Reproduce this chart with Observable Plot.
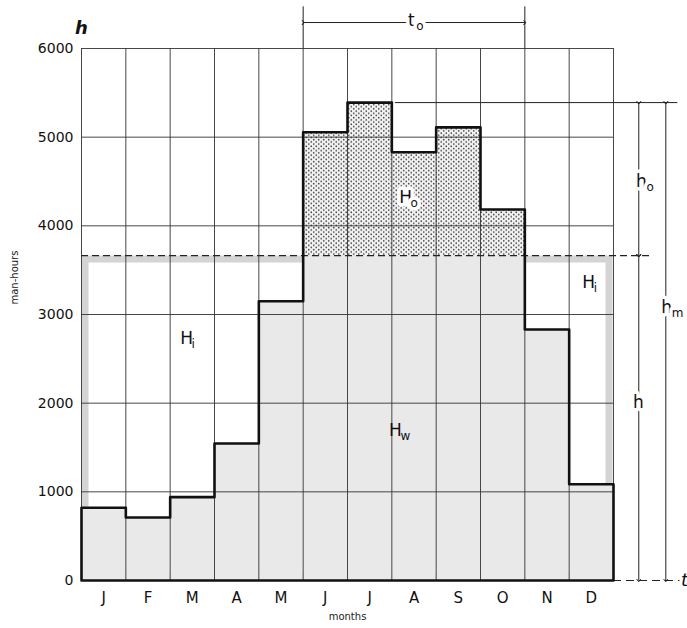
<!DOCTYPE html>
<html>
<head>
<meta charset="utf-8">
<script src="https://cdn.jsdelivr.net/npm/d3@7"></script>
<script src="https://cdn.jsdelivr.net/npm/@observablehq/plot@0.6"></script>
<style>
  html, body { margin: 0; padding: 0; background: #fff; }
  #chart { width: 687px; height: 628px; }
</style>
</head>
<body>
<div id="chart"></div>
<script>
// ---- data ----
const months = ["J", "F", "M", "A", "M", "J", "J", "A", "S", "O", "N", "D"];
const manHours = [820, 710, 940, 1545, 3150, 5055, 5390, 4830, 5110, 4185, 2830, 1085];
const yTicks = [0, 1000, 2000, 3000, 4000, 5000, 6000];
const hLevel = 3665;          // level h (dashed line)
const overtimeStart = 5;      // t_o begins (June)
const overtimeEnd = 10;       // t_o ends (after October)

// region labels (base letter + subscript)
const regionLabels = [
  {base: "H", sub: "i", x: 2.37, y: 2730, halo: false},
  {base: "H", sub: "i", x: 11.44, y: 3360, halo: false},
  {base: "H", sub: "o", x: 7.31, y: 4320, halo: true},
  {base: "H", sub: "w", x: 7.08, y: 1690, halo: false}
];
const dimLabels = [
  {base: "t", sub: "o", x: 7.44, y: 6315, halo: true},
  {base: "h", sub: "o", x: 12.63, y: 4500, halo: true},
  {base: "h", sub: "", x: 12.56, y: 2010, halo: true},
  {base: "h", sub: "m", x: 13.2, y: 3080, halo: true}
];

// ---- derived ----
const hMax = d3.max(manHours);
const rows = months.map((m, i) => ({i, m, v: manHours[i]}));
const over = rows.filter(d => d.v > hLevel);
const outline = [{x: 0, y: 0}, ...rows.map(d => ({x: d.i, y: d.v})),
  {x: months.length, y: manHours[manHours.length - 1]}, {x: months.length, y: 0}, {x: 0, y: 0}];
const n = months.length;
const dimX1 = 12.57, dimX2 = 13.18;
const dims = [
  {x: dimX1, y1: hMax, y2: hLevel},
  {x: dimX1, y1: hLevel, y2: 0},
  {x: dimX2, y1: hMax, y2: 0}
];
const labels = [...regionLabels, ...dimLabels];
const haloed = labels.filter(d => d.halo);
const plain = labels.filter(d => !d.halo);
const STIPPLE = "#010203";

function labelMarks(data, halo) {
  const extra = halo ? {stroke: "#fff", strokeWidth: 7} : {};
  return [
    Plot.text(data, {x: "x", y: "y", text: "base", fontSize: 17, fill: "#111", ...extra}),
    Plot.text(data, {x: "x", y: "y", text: "sub", fontSize: 12, dx: 5, dy: 6, textAnchor: "start", fill: "#111", ...extra})
  ];
}

const chart = Plot.plot({
  width: 687,
  height: 628,
  marginLeft: 81,
  marginRight: 74,
  marginTop: 48,
  marginBottom: 48,
  style: {fontFamily: "DejaVu Sans, sans-serif", background: "#fff", color: "#111"},
  x: {domain: [0, n], axis: null},
  y: {domain: [0, 6000], axis: null},
  marks: [
    // idle-capacity frame (gray band)
    Plot.rect([{}], {x1: 0, x2: n, y1: 0, y2: hLevel, fill: "none", stroke: "#d4d4d4", strokeWidth: 7,
      insetLeft: 4, insetRight: 4, insetTop: 4, insetBottom: 4}),
    // work done within h
    Plot.rect(rows, {x1: d => d.i, x2: d => d.i + 1, y1: 0, y2: d => Math.min(d.v, hLevel), fill: "#e9e9e9"}),
    // overtime (stippled)
    Plot.rect(over, {x1: d => d.i, x2: d => d.i + 1, y1: hLevel, y2: d => d.v, fill: STIPPLE}),
    // grid
    Plot.ruleY(yTicks, {x1: 0, x2: n, stroke: "#333", strokeWidth: 0.9}),
    Plot.ruleX(d3.range(n + 1), {y1: 0, y2: 6000, stroke: "#333", strokeWidth: 0.9}),
    // h level dashed
    Plot.ruleY([hLevel], {x1: 0, x2: 12.9, stroke: "#222", strokeWidth: 1.3, strokeDasharray: "7,4"}),
    // max level line
    Plot.ruleY([hMax], {x1: 7.08, x2: 13.45, stroke: "#222", strokeWidth: 1}),
    // baseline extension
    Plot.ruleY([0], {x1: n, x2: 13.5, stroke: "#222", strokeWidth: 1, strokeDasharray: "8,5"}),
    // outline of monthly demand
    Plot.line(outline, {x: "x", y: "y", curve: "step-after", stroke: "#111", strokeWidth: 2.6}),
    // t_o dimension
    Plot.ruleX([overtimeStart, overtimeEnd], {y1: 6000, y2: 6470, stroke: "#222", strokeWidth: 1}),
    Plot.link([{}], {x1: overtimeStart, x2: overtimeEnd, y1: 6293, y2: 6293, stroke: "#222", strokeWidth: 1,
      markerStart: "arrow", markerEnd: "arrow"}),
    // h dimensions
    Plot.link(dims, {x1: "x", x2: "x", y1: "y1", y2: "y2", stroke: "#222", strokeWidth: 1,
      markerStart: "arrow", markerEnd: "arrow"}),
    // labels
    ...labelMarks(haloed, true),
    ...labelMarks(plain, false),
    // axis variable symbols
    Plot.text(["h"], {x: 0, y: 6225, text: d => d, fontSize: 18, fontStyle: "italic", fontWeight: "bold", fill: "#111"}),
    Plot.text(["t"], {x: 13.52, y: 0, text: d => d, fontSize: 18, fontStyle: "italic", textAnchor: "start", fill: "#111"}),
    // axes
    Plot.axisY({ticks: yTicks, tickFormat: d => String(d), tickSize: 0, tickPadding: 8, label: null, fontSize: 14}),
    Plot.axisX({ticks: months.map((_, i) => i + 0.5), tickFormat: d => months[Math.floor(d)],
      tickSize: 0, tickPadding: 12, label: null, fontSize: 15}),
    Plot.text(["months"], {frameAnchor: "bottom", dy: 39, text: d => d, fontSize: 10, fill: "#222"}),
    Plot.text(["man-hours"], {frameAnchor: "left", dx: -67, dy: -10, rotate: -90, text: d => d, fontSize: 10, fill: "#222"})
  ]
});

// stipple pattern for overtime area
const svg = d3.select(chart);
const defs = svg.insert("defs", ":first-child");
const pat = defs.append("pattern").attr("id", "dots").attr("patternUnits", "userSpaceOnUse")
  .attr("width", 5).attr("height", 4.4);
pat.append("rect").attr("width", 5).attr("height", 4.4).attr("fill", "#f3f3f3");
pat.append("circle").attr("cx", 1.25).attr("cy", 1.1).attr("r", 0.85).attr("fill", "#444");
pat.append("circle").attr("cx", 3.75).attr("cy", 3.3).attr("r", 0.85).attr("fill", "#444");
svg.selectAll(`[fill="${STIPPLE}"]`).attr("fill", "url(#dots)");

document.getElementById("chart").appendChild(chart);
</script>
</body>
</html>
